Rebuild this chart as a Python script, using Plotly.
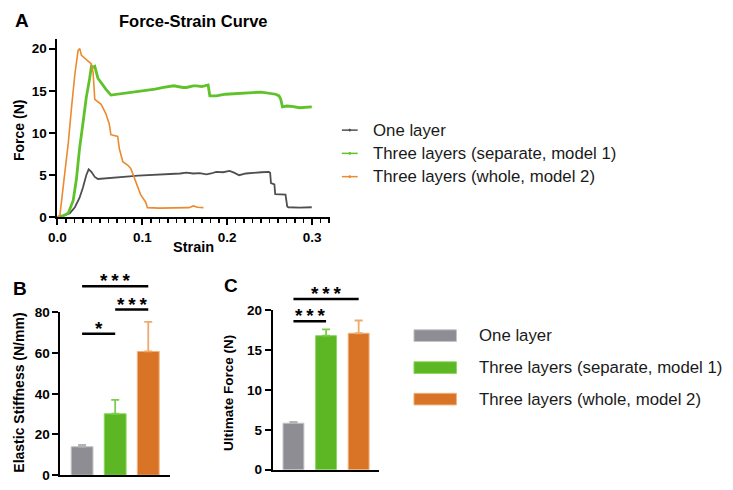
import plotly.graph_objects as go

W, H = 733, 490

# ---------------- data ----------------
series_names = ["One layer", "Three layers (separate, model 1)", "Three layers (whole, model 2)"]

strain_one = [0, 0.004, 0.007, 0.0147, 0.0206, 0.026, 0.030, 0.034, 0.0368, 0.040, 0.044, 0.0477,
              0.0555, 0.065, 0.0748, 0.085, 0.095, 0.106, 0.115, 0.125, 0.135, 0.1445, 0.152, 0.160,
              0.1675, 0.1756, 0.181, 0.187, 0.195, 0.2027, 0.208, 0.214, 0.222, 0.230, 0.240, 0.249,
              0.2505, 0.2515, 0.2555, 0.2565, 0.2686, 0.2706, 0.272, 0.285, 0.2995]
force_one = [0, 0.1, 0.2, 0.5, 1.2, 2.3, 3.5, 5.0, 5.7, 5.4, 4.8, 4.55,
             4.6, 4.7, 4.8, 4.85, 4.95, 5.0, 5.05, 5.1, 5.15, 5.2, 5.3, 5.2,
             5.25, 5.1, 5.2, 5.4, 5.35, 5.5, 5.3, 5.0, 5.2, 5.3, 5.35, 5.4,
             5.3, 4.05, 3.9, 2.75, 2.7, 1.3, 1.2, 1.15, 1.2]

strain_sep = [0, 0.007, 0.0128, 0.0186, 0.0225, 0.026, 0.030, 0.034, 0.038, 0.040, 0.042, 0.044,
              0.0477, 0.0515, 0.057, 0.063, 0.071, 0.080, 0.0864, 0.095, 0.106, 0.115, 0.125, 0.137,
              0.148, 0.152, 0.160, 0.164, 0.170, 0.1775, 0.1795, 0.187, 0.198, 0.210, 0.220, 0.230,
              0.240, 0.249, 0.257, 0.261, 0.263, 0.265, 0.270, 0.276, 0.285, 0.2995]
force_sep = [0, 0.2, 0.5, 2.0, 4.6, 8.1, 11.1, 14.2, 16.5, 17.9, 17.8, 17.9,
             16.5, 15.95, 15.2, 14.5, 14.6, 14.7, 14.8, 14.9, 15.0, 15.2, 15.4, 15.6,
             15.4, 15.4, 15.6, 15.6, 15.5, 15.7, 14.4, 14.4, 14.6, 14.7, 14.75, 14.8,
             14.85, 14.7, 14.6, 14.4, 14.0, 13.1, 13.2, 13.15, 13.0, 13.1]

strain_whole = [0, 0.003, 0.007, 0.0128, 0.0167, 0.0206, 0.0244, 0.0264, 0.0283, 0.032, 0.036, 0.040,
                0.042, 0.043, 0.044, 0.0515, 0.057, 0.061, 0.063, 0.071, 0.073, 0.077, 0.0826, 0.0864,
                0.092, 0.098, 0.104, 0.106, 0.12, 0.14, 0.155, 0.16, 0.165, 0.172]
force_whole = [0, 0.3, 3.8, 8.8, 13.1, 17.0, 19.8, 20.0, 19.2, 18.9, 18.6, 18.2,
               17.2, 14.6, 14.0, 13.4, 12.3, 11.1, 9.8, 9.6, 8.1, 6.6, 6.2, 5.8,
               4.3, 2.7, 1.8, 1.15, 1.1, 1.1, 1.15, 1.35, 1.2, 1.15]

stiffness_mean = [14.0, 30.2, 60.8]
stiffness_err = [0.9, 6.8, 14.5]
force_mean = [5.83, 16.8, 17.1]
force_err = [0.15, 0.8, 1.6]

# (from group, to group, height, label)
brackets_B = [(0, 1, 69.5, "*"), (1, 2, 81.4, "***"), (0, 2, 92.8, "***")]
brackets_C = [(0, 1, 18.6, "***"), (0, 2, 21.4, "***")]

line_colors = ["#4f4f4f", "#5fc22a", "#eb8a2e"]
line_widths = [1.8, 2.8, 1.6]
bar_colors = ["#8e8d93", "#5db623", "#d97427"]
bar_edge = ["#c4c4c8", "#8ad862", "#f0b27c"]
err_colors = ["#b4b4b8", "#7ccd4e", "#eeaa6c"]

FONT = "Arial, Liberation Sans, Helvetica, sans-serif"

def px(x):
    return x / W

def py(y):
    return 1 - y / H

# panel pixel geometry
A_x0, A_x1, A_y0, A_ytop = 49, 325, 217, 33
B_x0, B_x1, B_y0, B_y80, B_top_ext = 52, 163, 483, 315, 262
C_x0, C_x1, C_y0, C_y20, C_top_ext = 267, 375, 477.3, 312.7, 280

B_range = [0, 80]
C_range = [0, 20]
B_ext = 80 * (B_y0 - B_top_ext) / (B_y0 - B_y80)
C_ext = 20 * (C_y0 - C_top_ext) / (C_y0 - C_y20)

fig = go.Figure()

# ---------------- Panel A: curves ----------------
curves = [(strain_one, force_one), (strain_sep, force_sep), (strain_whole, force_whole)]
for i, (sx, fy) in enumerate(curves):
    fig.add_trace(go.Scatter(x=sx, y=fy, mode="lines", name=series_names[i],
                             line=dict(color=line_colors[i], width=line_widths[i]),
                             xaxis="x", yaxis="y", showlegend=False))

# ---------------- Panel B / C: bars ----------------
for i in range(3):
    fig.add_trace(go.Bar(x=[i], y=[stiffness_mean[i]], width=0.66, name=series_names[i],
                         marker=dict(color=bar_colors[i], line=dict(color=bar_edge[i], width=1)),
                         error_y=dict(type="data", symmetric=False, array=[stiffness_err[i]],
                                      arrayminus=[0], color=err_colors[i], thickness=1.8, width=4),
                         xaxis="x2", yaxis="y2", showlegend=False))
    fig.add_trace(go.Bar(x=[i], y=[force_mean[i]], width=0.64, name=series_names[i],
                         marker=dict(color=bar_colors[i], line=dict(color=bar_edge[i], width=1)),
                         error_y=dict(type="data", symmetric=False, array=[force_err[i]],
                                      arrayminus=[0], color=err_colors[i], thickness=1.8, width=4),
                         xaxis="x3", yaxis="y3", showlegend=False))

# significance bracket lines (on invisible extended axes sharing the same scale)
def bracket_trace(brs, xa, ya):
    xs, ys = [], []
    for a, b, h, lab in brs:
        xs += [a, b, None]
        ys += [h, h, None]
    return go.Scatter(x=xs, y=ys, mode="lines", line=dict(color="black", width=2.6),
                      xaxis=xa, yaxis=ya, showlegend=False, hoverinfo="skip")

fig.add_trace(bracket_trace(brackets_B, "x4", "y4"))
fig.add_trace(bracket_trace(brackets_C, "x5", "y5"))

tickfont = dict(family=FONT, size=13.5, color="black", weight="bold")
axis_common = dict(showline=True, linewidth=2, linecolor="black", showgrid=False, zeroline=False,
                   ticks="outside", tickwidth=2, tickcolor="black", ticklen=6, tickfont=tickfont)
hidden = dict(visible=False, showgrid=False, zeroline=False, fixedrange=True)

B_xr = [-0.657, 2.657]
C_xr = [-0.636, 2.636]

layout = dict(
    width=W, height=H, margin=dict(l=0, r=0, t=0, b=0), autosize=False,
    paper_bgcolor="white", plot_bgcolor="rgba(0,0,0,0)", barmode="overlay",
    font=dict(family=FONT, color="black"),
    xaxis=dict(domain=[px(A_x0), px(A_x1)], range=[0, 0.321], tick0=0, dtick=0.1, tickformat=".1f",
               anchor="y", minor=dict(dtick=0.01, tick0=0, ticks="outside", ticklen=4,
                                       tickwidth=1.5, tickcolor="black"), **axis_common),
    yaxis=dict(domain=[py(A_y0), py(A_ytop)], range=[0, 20 * (A_y0 - A_ytop) / (A_y0 - 43)],
               tick0=0, dtick=5, anchor="x", **axis_common),
    xaxis2=dict(domain=[px(B_x0), px(B_x1)], range=B_xr, anchor="y2", showline=True,
                linewidth=2, linecolor="black", showgrid=False, zeroline=False,
                showticklabels=False, ticks=""),
    yaxis2=dict(domain=[py(B_y0), py(B_y80)], range=B_range, tick0=0, dtick=20, anchor="x2",
                **axis_common),
    xaxis3=dict(domain=[px(C_x0), px(C_x1)], range=C_xr, anchor="y3", showline=True,
                linewidth=2, linecolor="black", showgrid=False, zeroline=False,
                showticklabels=False, ticks=""),
    yaxis3=dict(domain=[py(C_y0), py(C_y20)], range=C_range, tick0=0, dtick=5, anchor="x3",
                **axis_common),
    xaxis4=dict(domain=[px(B_x0), px(B_x1)], range=B_xr, anchor="y4", **hidden),
    yaxis4=dict(domain=[py(B_y0), py(B_top_ext)], range=[0, B_ext], anchor="x4", **hidden),
    xaxis5=dict(domain=[px(C_x0), px(C_x1)], range=C_xr, anchor="y5", **hidden),
    yaxis5=dict(domain=[py(C_y0), py(C_top_ext)], range=[0, C_ext], anchor="x5", **hidden),
)
fig.update_layout(**layout)

annotations = []
shapes = []

def text(x, y, s, size, bold=False, angle=0, xanchor="center", color="black"):
    annotations.append(dict(xref="paper", yref="paper", x=px(x), y=py(y), text=s, showarrow=False,
                            xanchor=xanchor, yanchor="middle", textangle=angle,
                            font=dict(family=FONT, size=size, color=color,
                                      weight="bold" if bold else "normal")))

# panel letters and titles
text(13, 14, "A", 19, True)
text(187, 14, "Force-Strain Curve", 16.5, True)
text(10, 127, "Force (N)", 14, True, angle=-90)
text(187, 248, "Strain", 14.5, True)
text(11, 290, "B", 19, True)
text(10, 398, "Elastic Stiffness (N/mm)", 14, True, angle=-90)
text(225, 287, "C", 19, True)
text(223, 398, "Ultimate Force (N)", 13.5, True, angle=-90)

# legend A (line samples)
legA_y = [127, 151, 175]
for i, name in enumerate(series_names):
    shapes.append(dict(type="line", xref="paper", yref="paper", x0=px(337), x1=px(353),
                       y0=py(legA_y[i]), y1=py(legA_y[i]),
                       line=dict(color=line_colors[i], width=1.5)))
    shapes.append(dict(type="circle", xref="paper", yref="paper", x0=px(344), x1=px(346),
                       y0=py(legA_y[i] + 1), y1=py(legA_y[i] - 1),
                       line=dict(color=line_colors[i], width=1), fillcolor=line_colors[i]))
    text(366, legA_y[i], name, 16.8, False, xanchor="left", color="#1a1a1a")

# legend B/C (bar swatches)
legB_y = [339, 372, 404.5]
for i, name in enumerate(series_names):
    shapes.append(dict(type="rect", xref="paper", yref="paper", x0=px(410), x1=px(453),
                       y0=py(legB_y[i] + 6), y1=py(legB_y[i] - 6),
                       line=dict(color=bar_edge[i], width=1), fillcolor=bar_colors[i]))
    text(474, legB_y[i], name, 16.8, False, xanchor="left", color="#1a1a1a")

# significance stars
def add_stars(brs, xr, yr):
    for a, b, h, lab in brs:
        annotations.append(dict(xref=xr, yref=yr, x=(a + b) / 2, y=h,
                                text="\u2009".join(lab), showarrow=False,
                                xanchor="center", yanchor="bottom", yshift=-7,
                                font=dict(family=FONT, size=19, color="black", weight="bold")))

add_stars(brackets_B, "x4", "y4")
add_stars(brackets_C, "x5", "y5")

fig.update_layout(annotations=annotations, shapes=shapes)

fig.write_html("out.html", config={"displayModeBar": False, "staticPlot": True},
               post_script="document.body.style.margin='0';")
